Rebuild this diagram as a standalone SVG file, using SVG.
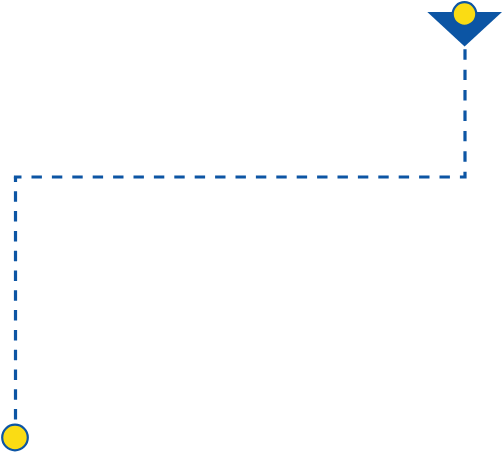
<svg xmlns="http://www.w3.org/2000/svg" width="502" height="453" viewBox="0 0 502 453">
<style>
.conn{fill:none;stroke:#0c55a4;stroke-width:3.2;stroke-linecap:butt;stroke-linejoin:miter}
.pin{fill:#fadc14;stroke:#0c55a4;stroke-width:2.2}
.tri{fill:#0c55a4}
</style>
<rect width="502" height="453" fill="#ffffff"/>
<g id="connectors">
<path class="conn" d="M465,49.3 V177 H13.9" stroke-dasharray="10.4 10"/>
<path class="conn" d="M15.5,177 V426" stroke-dasharray="10.5 9.3" stroke-dashoffset="5.5"/>
</g>
<g id="start">
<polygon class="tri" points="427.3,12 502,12 464.6,46.5"/>
<circle class="pin" cx="464.5" cy="14" r="11.8"/>
</g>
<g id="end">
<circle class="pin" cx="15" cy="437.5" r="12.8"/>
</g>
</svg>
